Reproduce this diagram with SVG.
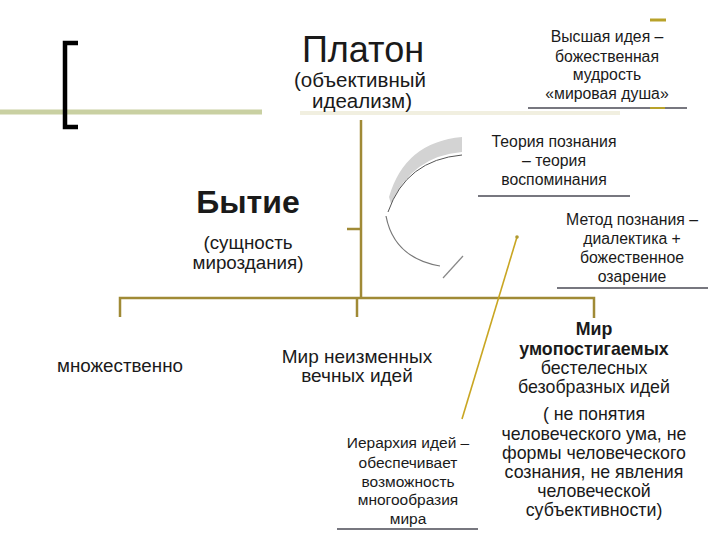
<svg xmlns="http://www.w3.org/2000/svg" width="720" height="540" viewBox="0 0 720 540">
<style>
text{font-family:"Liberation Sans",Arial,sans-serif;fill:#1a1a1a;text-anchor:middle}
.t14{font-size:15.8px}
.t16{font-size:17.8px}
.b{font-weight:bold}
.ol{stroke:#a08a36;stroke-width:2.5;fill:none}
.ul{stroke:#4a4a55;stroke-width:1.5}
</style>
<rect width="720" height="540" fill="#ffffff"/>
<g id="decor">
<line x1="0" y1="112" x2="262" y2="112" stroke="#c9d0a2" stroke-width="5"/>
<line x1="300" y1="113" x2="620" y2="113" stroke="#f1efe0" stroke-width="4"/>
<path d="M78 43 H65 V127 H78" fill="none" stroke="#000" stroke-width="4.5"/>
<line x1="650" y1="20" x2="666" y2="20" stroke="#b8a22a" stroke-width="3"/>
<path d="M389 197 Q405 142 462 137 L462 152 Q412 156 391 204 Z" fill="#d3d3d3"/>
<path d="M388 212 Q406 160 462 155" fill="none" stroke="#555" stroke-width="1"/>
<path d="M386 216 Q394 258 440 266" fill="none" stroke="#777" stroke-width="1.2"/>
<line x1="443" y1="278" x2="463" y2="256" stroke="#888" stroke-width="1.2"/>
</g>
<g id="connectors">
<line class="ol" x1="361" y1="120" x2="361" y2="298"/>
<line class="ol" x1="347" y1="229" x2="361" y2="229"/>
<path class="ol" d="M120 317 V298 H594 V318"/>
<line class="ol" x1="357" y1="298" x2="357" y2="317"/>
<line x1="517" y1="237" x2="462" y2="419" stroke="#c9a622" stroke-width="1.6"/>
<circle cx="517" cy="237" r="1.8" fill="#b09a30"/>
</g>
<g id="platon">
<text x="363" y="62" style="font-size:36px">Платон</text>
<text x="360" y="87" style="font-size:20.5px">(объективный</text>
<text x="362" y="108" style="font-size:20.5px">идеализм)</text>
</g>
<g id="vysshaya">
<text class="t14" x="607" y="42">Высшая идея –</text>
<text class="t14" x="607" y="62">божественная</text>
<text class="t14" x="607" y="80">мудрость</text>
<text class="t14" x="607" y="99">«мировая душа»</text>
<line class="ul" x1="528" y1="108" x2="687" y2="108"/>
<line x1="650" y1="108" x2="665" y2="108" stroke="#b8a22a" stroke-width="2"/>
</g>
<g id="teoriya">
<text class="t14" x="554" y="147">Теория познания</text>
<text class="t14" x="554" y="166">– теория</text>
<text class="t14" x="554" y="185">воспоминания</text>
<line class="ul" x1="478" y1="196" x2="630" y2="196"/>
</g>
<g id="bytie">
<text class="b" x="248" y="213" style="font-size:32px">Бытие</text>
<text x="248" y="249" style="font-size:18.8px">(сущность</text>
<text x="248" y="269" style="font-size:18.8px">мироздания)</text>
</g>
<g id="metod">
<text class="t14" x="632" y="225">Метод познания –</text>
<text class="t14" x="632" y="244">диалектика +</text>
<text class="t14" x="632" y="263">божественное</text>
<text class="t14" x="632" y="282">озарение</text>
<line class="ul" x1="557" y1="288" x2="708" y2="288"/>
</g>
<g id="mnozh">
<text x="120" y="372" style="font-size:18.8px">множественно</text>
</g>
<g id="mir-neizm">
<text x="357" y="363" style="font-size:19px">Мир неизменных</text>
<text x="357" y="382" style="font-size:19px">вечных идей</text>
</g>
<g id="ierarkhiya">
<text x="408" y="448" style="font-size:15.5px">Иерархия идей –</text>
<text x="408" y="468" style="font-size:15.5px">обеспечивает</text>
<text x="408" y="487" style="font-size:15.5px">возможность</text>
<text x="408" y="505" style="font-size:15.5px">многообразия</text>
<text x="408" y="524" style="font-size:15.5px">мира</text>
<line class="ul" x1="337" y1="529" x2="478" y2="529"/>
</g>
<g id="mir-umopost">
<text class="t16 b" x="594" y="335">Мир</text>
<text class="t16 b" x="594" y="355">умопостигаемых</text>
<text class="t16" x="594" y="374">бестелесных</text>
<text class="t16" x="594" y="393">безобразных идей</text>
<text class="t16" x="594" y="420">( не понятия</text>
<text class="t16" x="594" y="440">человеческого ума, не</text>
<text class="t16" x="594" y="459">формы человеческого</text>
<text class="t16" x="594" y="478">сознания, не явления</text>
<text class="t16" x="594" y="497">человеческой</text>
<text class="t16" x="594" y="516">субъективности)</text>
</g>
</svg>
